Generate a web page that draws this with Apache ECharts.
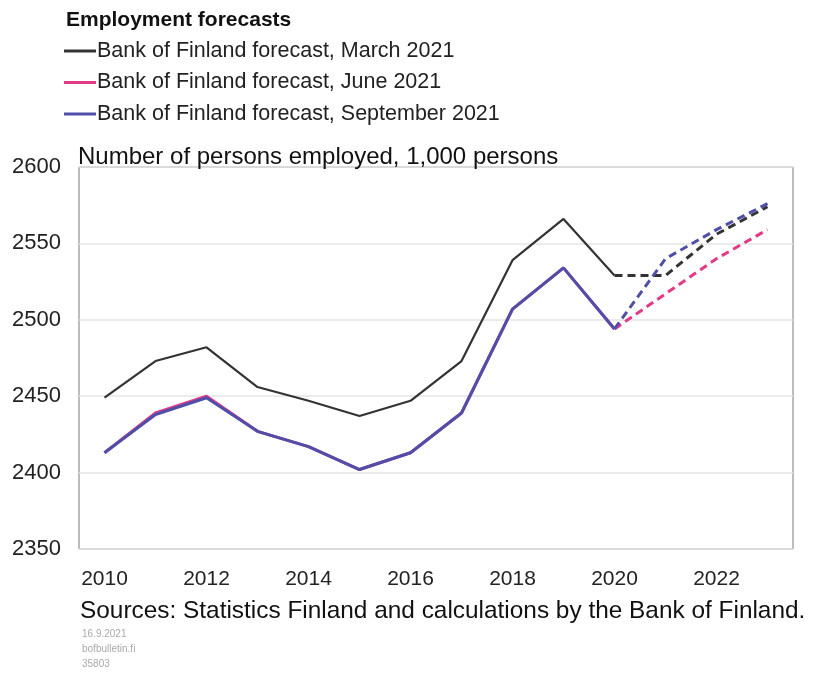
<!DOCTYPE html>
<html>
<head>
<meta charset="utf-8">
<script src="https://cdn.jsdelivr.net/npm/echarts@6/dist/echarts.min.js"></script>
<style>html,body{margin:0;padding:0;background:#fff;}#c{width:821px;height:676px;}</style>
</head>
<body>
<div id="c"></div>
<script>
const years = ['2010','2011','2012','2013','2014','2015','2016','2017','2018','2019','2020','2021','2022','2023'];
const marchValues = [2449, 2473, 2482, 2456, 2447, 2437, 2447, 2473, 2539, 2566, 2529, 2529, 2556, 2574];
const juneValues  = [2413, 2439, 2450, 2427, 2417, 2402, 2413, 2439, 2507, 2534, 2494, 2517, 2540, 2559];
const septValues  = [2413, 2438, 2449, 2427, 2417, 2402, 2413, 2439, 2507, 2534, 2494, 2540, 2559, 2576];
const lastActualIndex = 10;
const names = ['Bank of Finland forecast, March 2021','Bank of Finland forecast, June 2021','Bank of Finland forecast, September 2021'];
const colors = ['#333333','#e23a86','#4f4ea8'];
const widths = [2.2, 3, 3];
const FONT = '"Liberation Sans", Arial, sans-serif';

const allValues = [marchValues, juneValues, septValues];
const series = [];
allValues.forEach((vals, k) => {
  series.push({
    name: names[k], type: 'line', symbol: 'none', z: 2 + k,
    data: vals.map((v, i) => i <= lastActualIndex ? v : null),
    lineStyle: { color: colors[k], width: widths[k] }, itemStyle: { color: colors[k] }
  });
});
allValues.forEach((vals, k) => {
  series.push({
    name: names[k], type: 'line', symbol: 'none', z: 2 + k,
    data: vals.map((v, i) => i >= lastActualIndex ? v : null),
    lineStyle: { color: colors[k], width: 3, type: [8, 5] }, itemStyle: { color: colors[k] }
  });
});

const chart = echarts.init(document.getElementById('c'));
chart.setOption({
  animation: false,
  backgroundColor: '#fff',
  title: [
    { text: 'Employment forecasts', left: 66, top: 10, padding: 0, textStyle: { fontFamily: FONT, fontSize: 21, fontWeight: 'bold', color: '#111' } },
    { text: 'Number of persons employed, 1,000 persons', left: 78, top: 145, padding: 0, textStyle: { fontFamily: FONT, fontSize: 24, fontWeight: 'normal', color: '#111' } },
    { text: 'Sources: Statistics Finland and calculations by the Bank of Finland.', left: 80, top: 599, padding: 0, textStyle: { fontFamily: FONT, fontSize: 24.4, fontWeight: 'normal', color: '#111' } },
    { text: '16.9.2021\nbofbulletin.fi\n35803', left: 82, top: 627, padding: 0, textStyle: { fontFamily: FONT, fontSize: 10, fontWeight: 'normal', color: '#aaaaaa', lineHeight: 15 } }
  ],
  legend: {
    data: names, orient: 'vertical', left: 64, top: 40, itemGap: 9.5, padding: 0,
    icon: 'rect', itemWidth: 32, itemHeight: 3,
    textStyle: { fontFamily: FONT, fontSize: 21.5, color: '#222', padding: [0, 0, 0, -4] },
    selectedMode: false
  },
  grid: { left: 79, top: 167, right: 28, bottom: 127, show: true, borderColor: '#7a7a7a', borderWidth: 1 },
  xAxis: {
    type: 'category', data: years, boundaryGap: true,
    axisLine: { show: false }, axisTick: { show: false },
    axisLabel: { interval: 1, fontFamily: FONT, fontSize: 21, color: '#222', margin: 20 }
  },
  yAxis: {
    type: 'value', min: 2350, max: 2600, interval: 50,
    axisLine: { show: false }, axisTick: { show: false },
    axisLabel: { fontFamily: FONT, fontSize: 22, color: '#222', margin: 18, formatter: v => String(v) },
    splitLine: { lineStyle: { color: '#e4e4e4', width: 1.5 } }
  },
  series: series
});
</script>
</body>
</html>
